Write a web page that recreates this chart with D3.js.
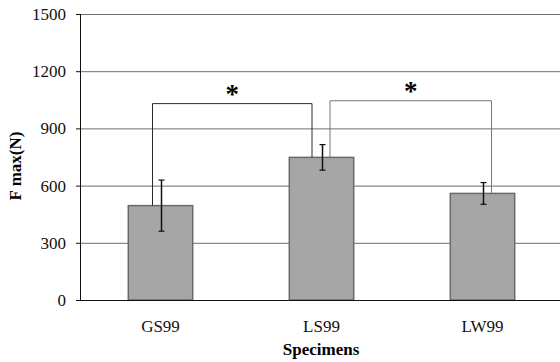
<!DOCTYPE html>
<html>
<head>
<meta charset="utf-8">
<script src="https://cdn.jsdelivr.net/npm/d3@7"></script>
<style>
  body { margin: 0; background: #fff; }
  text { font-family: "Liberation Serif", "Times New Roman", serif; }
</style>
</head>
<body>
<script>
var specimens = ["GS99", "LS99", "LW99"]
var fmax = [495, 748, 559]
var errors = [134, 67, 57]
var yTicks = [0, 300, 600, 900, 1200, 1500]
// significance brackets: which pair, and the level of the horizontal line
var brackets = [
    {from: 0, to: 1, level: 1030},
    {from: 1, to: 2, level: 1045}
]

var width = 560,
    height = 362;

var margin = {top: 14, right: -3, bottom: 62, left: 80},
    innerW = width - margin.left - margin.right,
    innerH = height - margin.top - margin.bottom;

var svg = d3.select("body").append("svg")
    .attr("width", width)
    .attr("height", height)

var g = svg.append("g")
    .attr("transform", "translate(" + margin.left + "," + margin.top + ")");

var xScale = d3.scaleBand()
    .domain(specimens)
    .range([0, innerW])
    .paddingInner(0.6)
    .paddingOuter(0.3)

var yScale = d3.scaleLinear()
    .domain([0, 1500])
    .range([innerH, 0])

// gridlines
g.selectAll(".grid")
    .data(yTicks.slice(1))
    .enter().append("line")
    .attr("class", "grid")
    .attr("x1", 0)
    .attr("x2", innerW)
    .attr("y1", function(d) { return yScale(d) + 0.5 })
    .attr("y2", function(d) { return yScale(d) + 0.5 })
    .style("stroke", "#6e6e6e")
    .style("stroke-width", 1)

// bars
g.selectAll(".bar")
    .data(fmax)
    .enter().append("rect")
    .attr("class", "bar")
    .attr("x", function(d, i) { return xScale(specimens[i]) })
    .attr("y", function(d) { return yScale(d) })
    .attr("width", xScale.bandwidth())
    .attr("height", function(d) { return innerH - yScale(d) })
    .style("fill", "#a6a6a6")
    .style("stroke", "#6a6a6a")
    .style("stroke-width", 1.5)

// error bars
var cx = function(i) { return xScale(specimens[i]) + xScale.bandwidth() / 2 }
fmax.forEach(function(v, i) {
    var x = cx(i) + 1
    var e = errors[i]
    g.append("line")
        .attr("x1", x).attr("x2", x)
        .attr("y1", yScale(v + e)).attr("y2", yScale(v - e))
        .style("stroke", "#111").style("stroke-width", 1.5)
    ;[v + e, v - e].forEach(function(c) {
        g.append("line")
            .attr("x1", x - 3).attr("x2", x + 3)
            .attr("y1", yScale(c)).attr("y2", yScale(c))
            .style("stroke", "#111").style("stroke-width", 1.2)
    })
})

// significance brackets
var bracketColor = ["#2a2a2a", "#777"]
brackets.forEach(function(b, k) {
    var x1 = cx(b.from) + (k == 0 ? -8 : 8.5)
    var x2 = cx(b.to) + (k == 0 ? -9.5 : 9)
    var yl = yScale(b.level)
    g.append("path")
        .attr("d", "M" + x1 + "," + yScale(fmax[b.from]) + " L" + x1 + "," + yl +
                   " L" + x2 + "," + yl + " L" + x2 + "," + yScale(fmax[b.to]))
        .style("fill", "none")
        .style("stroke", bracketColor[k])
        .style("stroke-width", 1)
    g.append("text")
        .attr("x", (x1 + x2) / 2)
        .attr("y", yl - 1)
        .attr("text-anchor", "middle")
        .style("font-size", "27px")
        .style("font-weight", "bold")
        .text("*")
})

// axes
var axisY = d3.axisLeft(yScale).tickValues(yTicks).tickFormat(d3.format("d"))
    .tickSize(4).tickPadding(10)
var gy = g.append("g").call(axisY)
gy.attr("font-family", null).attr("font-size", null)
gy.select(".domain").remove()
gy.selectAll("text").style("font-size", "17px").style("fill", "#111")
gy.selectAll("line").style("stroke", "#111")

g.append("line")
    .attr("x1", 0.5).attr("x2", 0.5)
    .attr("y1", 0).attr("y2", innerH)
    .style("stroke", "#111")
g.append("line")
    .attr("x1", 0).attr("x2", innerW)
    .attr("y1", innerH + 0.5).attr("y2", innerH + 0.5)
    .style("stroke", "#111")

g.selectAll(".cat")
    .data(specimens)
    .enter().append("text")
    .attr("class", "cat")
    .attr("x", function(d, i) { return cx(i) })
    .attr("y", innerH + 32)
    .attr("text-anchor", "middle")
    .style("font-size", "17px")
    .style("fill", "#111")
    .text(function(d) { return d })

svg.append("text")
    .attr("x", 321)
    .attr("y", 355)
    .attr("text-anchor", "middle")
    .style("font-size", "17px")
    .style("font-weight", "bold")
    .text("Specimens")

svg.append("text")
    .attr("transform", "translate(21,166) rotate(-90)")
    .attr("text-anchor", "middle")
    .style("font-size", "17px")
    .style("font-weight", "bold")
    .text("F max(N)")
</script>
</body>
</html>
